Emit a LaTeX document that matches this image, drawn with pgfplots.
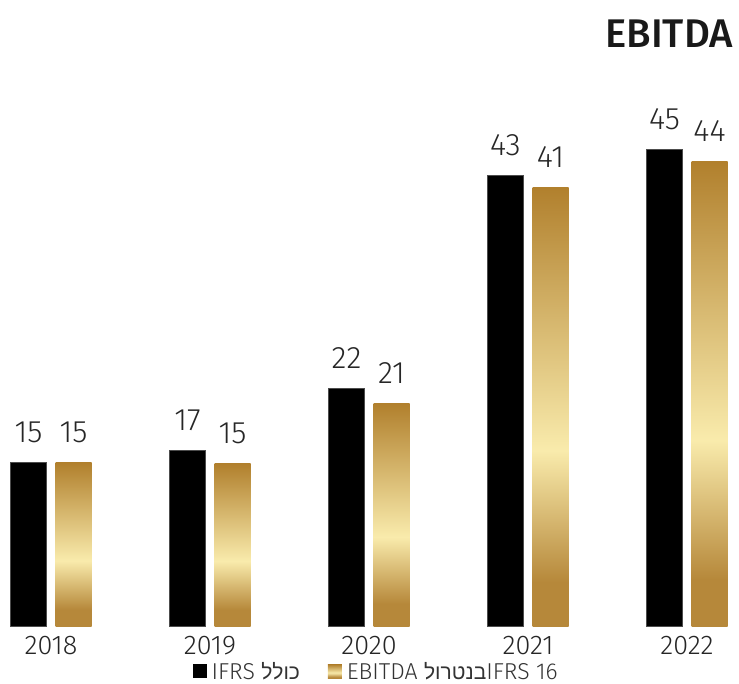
\documentclass[border=0pt]{standalone}
\usepackage{pgfplots}
\pgfplotsset{compat=1.18}
\usepackage{fontspec}
\setmainfont{Fira Sans Light}[BoldFont=Fira Sans Medium]
\newfontfamily\hebfont[Script=Hebrew]{Liberation Sans}
\TeXXeTstate=1
\definecolor{goldtop}{HTML}{B1802D}
\definecolor{goldlight}{HTML}{F9EBAC}
\definecolor{goldbot}{HTML}{B6883A}
\pgfdeclareverticalshading{goldbar}{100bp}{color(0bp)=(goldbot); color(25bp)=(goldbot); color(30bp)=(goldbot); color(45bp)=(goldlight); color(75bp)=(goldtop); color(100bp)=(goldtop)}
\pgfplotsset{goldstyle/.style={shading=goldbar, draw=none, bar shift=22.5pt}}
\begin{document}
\begin{tikzpicture}
\begin{axis}[
  scale only axis, width=739pt, height=626pt,
  xmin=-0.3208, xmax=4.327, ymin=0, ymax=59.06,
  axis line style={draw=none},
  ytick=\empty,
  xtick={0,1,2,3,4},
  xticklabels={2018,2019,2020,2021,2022},
  major tick length=0pt,
  xticklabel style={font=\fontsize{27}{32}\selectfont, text=black!85, anchor=base, yshift=-28pt},
  ybar, bar width=36pt,
  nodes near coords,
  point meta=explicit symbolic,
  nodes near coords style={font=\fontsize{31}{36}\selectfont, text=black!85, anchor=base, inner sep=0pt, yshift=20pt},
  legend columns=2,
  legend style={at={(rel axis cs:0.509,0)}, anchor=north, yshift=-32pt, draw=none, fill=none,
    font=\fontsize{23}{27}\selectfont, text=black!80,
    /tikz/every odd column/.append style={column sep=3pt},
    /tikz/every even column/.append style={column sep=26pt}},
  legend image code/.code={\path[#1,draw=none] (0pt,-7pt) rectangle (14pt,7pt);},
]
\addplot[fill=black, draw=black!70, line width=0.8pt, bar shift=-22.5pt]
  coordinates {(0,15.4)[15] (1,16.6)[17] (2,22.4)[22] (3,42.5)[43] (4,45.0)[45]};
\addlegendentry{IFRS {\hebfont\fontsize{21}{27}\selectfont\beginR כולל\endR}}
\addlegendimage{goldstyle}
\addlegendentry{EBITDA {\hebfont\fontsize{21}{27}\selectfont\beginR בנטרול\endR}IFRS 16}
\addplot[goldstyle, forget plot] coordinates {(0,15.4)[15]};
\addplot[goldstyle, forget plot] coordinates {(1,15.3)[15]};
\addplot[goldstyle, forget plot] coordinates {(2,21.0)[21]};
\addplot[goldstyle, forget plot] coordinates {(3,41.4)[41]};
\addplot[goldstyle, forget plot] coordinates {(4,43.8)[44]};
\node[anchor=east, font=\fontsize{40}{46}\selectfont\bfseries, text=black!90, inner sep=0pt] at (rel axis cs:0.992,0.946) {EBITDA};
\end{axis}
\pgfresetboundingbox
\path (0pt,-57pt) rectangle (739pt,626pt);
\end{tikzpicture}
\end{document}
